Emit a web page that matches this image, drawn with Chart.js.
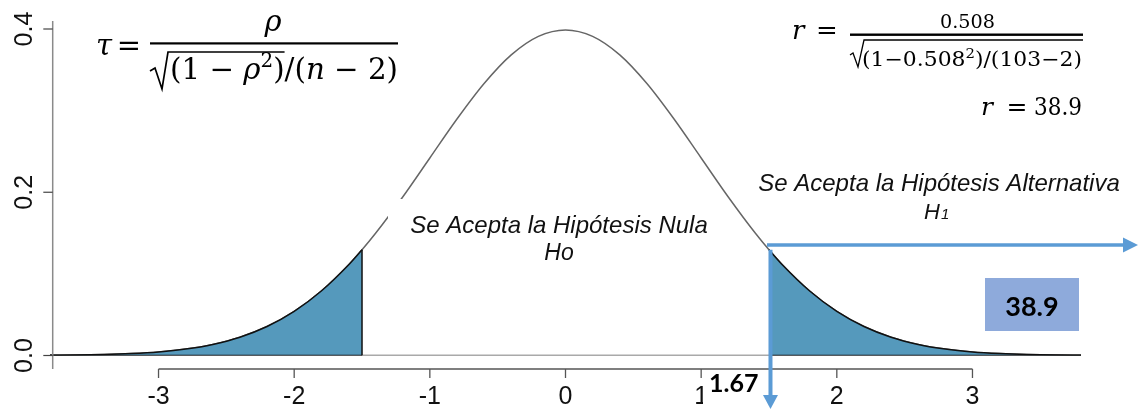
<!DOCTYPE html>
<html>
<head>
<meta charset="utf-8">
<script src="https://cdn.jsdelivr.net/npm/chart.js@4.4.1/dist/chart.umd.min.js"></script>
<style>
  html, body { margin: 0; padding: 0; background: #fff; }
  canvas { display: block; }
</style>
</head>
<body>
<canvas id="chart" width="1139" height="409"></canvas>
<script>
// Curve (x in z units, y = density)
const xValues = [-3.8, -3.6, -3.4, -3.2, -3.0, -2.8, -2.6, -2.4, -2.2, -2.0, -1.8, -1.6, -1.5, -1.4, -1.2, -1.0, -0.8, -0.6, -0.4, -0.2,
  0, 0.2, 0.4, 0.6, 0.8, 1.0, 1.2, 1.4, 1.5, 1.6, 1.8, 2.0, 2.2, 2.4, 2.6, 2.8, 3.0, 3.2, 3.4, 3.6, 3.8];
const density = [0.0003, 0.0006, 0.0012, 0.0024, 0.0044, 0.0079, 0.0136, 0.0224, 0.0355, 0.0540, 0.0790, 0.1109, 0.1295, 0.1497, 0.1942, 0.2420, 0.2897, 0.3332, 0.3683, 0.3910,
  0.3989, 0.3910, 0.3683, 0.3332, 0.2897, 0.2420, 0.1942, 0.1497, 0.1295, 0.1109, 0.0790, 0.0540, 0.0355, 0.0224, 0.0136, 0.0079, 0.0044, 0.0024, 0.0012, 0.0006, 0.0003];

// shaded tails start here
const criticalValue = 1.5;

const xTicks = [-3, -2, -1, 0, 1, 2, 3];
const yTicks = [0, 0.2, 0.4];
const yTickLabels = ['0.0', '0.2', '0.4'];

const nullText = ['Se Acepta la Hipótesis Nula', 'Ho'];
const altText = 'Se Acepta la Hipótesis Alternativa';
const statValue = '38.9';
const tableValue = '1.67';

const points = xValues.map((x, i) => ({ x: x, y: density[i] }));
const leftTail = points.filter(p => p.x <= -criticalValue);
const rightTail = points.filter(p => p.x >= criticalValue);
const edgeY = density[xValues.indexOf(-criticalValue)];
const xMin = xValues[0], xMax = xValues[xValues.length - 1];

const SERIF = '"DejaVu Serif"';
const SANS = '"Liberation Sans", Arial, sans-serif';

// draw text runs: [text, style] with style n (normal), i (italic), s (superscript)
function runsWidth(ctx, runs, size) {
  let w = 0;
  runs.forEach(([t, s]) => {
    const sz = s === 's' ? size * 0.68 : size;
    ctx.font = (s === 'i' ? 'italic ' : '') + sz + 'px ' + SERIF;
    w += ctx.measureText(t).width;
  });
  return w;
}

// draws runs stretched to fit between left and right, returns x-ends of each run
function drawRuns(ctx, runs, left, right, baseline, size) {
  const w = runsWidth(ctx, runs, size);
  const sx = (right - left) / w;
  const ends = [];
  let cx = 0;
  ctx.save();
  ctx.translate(left, baseline);
  ctx.scale(sx, 1);
  ctx.textAlign = 'left';
  ctx.textBaseline = 'alphabetic';
  runs.forEach(([t, s]) => {
    const sz = s === 's' ? size * 0.68 : size;
    ctx.font = (s === 'i' ? 'italic ' : '') + sz + 'px ' + SERIF;
    ctx.fillText(t, cx, s === 's' ? -size * 0.4 : 0);
    cx += ctx.measureText(t).width;
    ends.push(left + cx * sx);
  });
  ctx.restore();
  return ends;
}

function arrow(ctx, x1, y1, x2, y2, width, head, half) {
  const a = Math.atan2(y2 - y1, x2 - x1);
  const bx = x2 - Math.cos(a) * head, by = y2 - Math.sin(a) * head;
  ctx.beginPath();
  ctx.moveTo(x1, y1);
  ctx.lineTo(bx, by);
  ctx.lineWidth = width;
  ctx.stroke();
  ctx.beginPath();
  ctx.moveTo(x2, y2);
  ctx.lineTo(bx - Math.sin(a) * half, by + Math.cos(a) * half);
  ctx.lineTo(bx + Math.sin(a) * half, by - Math.cos(a) * half);
  ctx.closePath();
  ctx.fill();
}

const decor = {
  id: 'decor',
  afterDatasetsDraw(chart) {
    const ctx = chart.ctx;
    const xs = chart.scales.x, ys = chart.scales.y;
    const y0 = ys.getPixelForValue(0);
    ctx.save();

    // text box that hides part of the curve
    ctx.fillStyle = '#fff';
    ctx.fillRect(388, 199, 332, 72);
    ctx.fillStyle = '#111';
    ctx.textAlign = 'center';
    ctx.textBaseline = 'alphabetic';
    ctx.font = 'italic 24px ' + SANS;
    ctx.fillText(nullText[0], 559, 233);
    ctx.font = 'italic 23px ' + SANS;
    ctx.fillText(nullText[1], 559, 260);

    ctx.font = 'italic 24px ' + SANS;
    ctx.fillText(altText, 939, 191);
    ctx.textAlign = 'left';
    ctx.font = 'italic 22px ' + SANS;
    ctx.fillText('H', 924, 219);
    ctx.font = 'italic 15px ' + SANS;
    ctx.fillText('1', 941, 219);

    // left formula
    ctx.fillStyle = '#000';
    ctx.strokeStyle = '#000';
    ctx.font = 'italic 29px ' + SERIF;
    ctx.fillText('τ', 96, 55);
    ctx.font = '29px ' + SERIF;
    ctx.textAlign = 'center';
    ctx.fillText('=', 129, 55);
    ctx.fillRect(150, 42.3, 248, 2.2);
    ctx.font = 'italic 29px ' + SERIF;
    ctx.fillText('ρ', 273, 31);
    const denL = [['(', 'n'], ['1', 'n'], [' − ', 'n'], ['ρ', 'i'], ['2', 's'], [')', 'n'],
      ['/(', 'n'], ['n', 'i'], [' − ', 'n'], ['2', 'n'], [')', 'n']];
    const endsL = drawRuns(ctx, denL, 170, 398, 79, 29);
    ctx.lineWidth = 1.7;
    ctx.beginPath();
    ctx.moveTo(150, 71); ctx.lineTo(155, 68); ctx.lineTo(162, 89); ctx.lineTo(168, 52); ctx.lineTo(endsL[5], 52);
    ctx.stroke();

    // right formula
    ctx.textAlign = 'left';
    ctx.font = 'italic 26px ' + SERIF;
    ctx.fillText('r', 792, 39);
    ctx.font = '26px ' + SERIF;
    ctx.textAlign = 'center';
    ctx.fillText('=', 827, 39);
    ctx.fillRect(850, 33.5, 233, 2.4);
    drawRuns(ctx, [['0.508', 'n']], 940, 995, 28, 19);
    const denR = [['(1−0.508', 'n'], ['2', 's'], [')/(103−2)', 'n']];
    drawRuns(ctx, denR, 862, 1082, 66, 20);
    ctx.lineWidth = 1.3;
    ctx.beginPath();
    ctx.moveTo(850, 55); ctx.lineTo(853, 53); ctx.lineTo(858, 67); ctx.lineTo(864, 40); ctx.lineTo(1083, 40);
    ctx.stroke();
    ctx.textAlign = 'left';
    ctx.font = 'italic 25px ' + SERIF;
    ctx.fillText('r', 981, 115);
    ctx.font = '25px ' + SERIF;
    ctx.textAlign = 'center';
    ctx.fillText('=', 1017, 115);
    drawRuns(ctx, [[statValue, 'n']], 1034, 1082, 115, 25);

    // y axis (R style)
    ctx.strokeStyle = '#8a8a8a';
    ctx.lineWidth = 1.5;
    ctx.beginPath();
    ctx.moveTo(52.7, 21); ctx.lineTo(52.7, 369);
    ctx.stroke();
    ctx.strokeStyle = '#444';
    ctx.lineWidth = 1.2;
    ctx.fillStyle = '#111';
    ctx.font = '25px ' + SANS;
    ctx.textAlign = 'center';
    yTicks.forEach((v, i) => {
      const py = ys.getPixelForValue(v);
      ctx.beginPath();
      ctx.moveTo(43.3, py); ctx.lineTo(52.7, py);
      ctx.stroke();
      ctx.save();
      ctx.translate(32, py);
      ctx.rotate(-Math.PI / 2);
      ctx.fillText(yTickLabels[i], 0, 0);
      ctx.restore();
    });

    // x axis (R style, offset below the curve)
    const axY = y0 + 13.5;
    ctx.strokeStyle = '#555';
    ctx.lineWidth = 1.3;
    ctx.beginPath();
    ctx.moveTo(xs.getPixelForValue(xTicks[0]), axY);
    ctx.lineTo(xs.getPixelForValue(xTicks[xTicks.length - 1]), axY);
    ctx.stroke();
    xTicks.forEach(v => {
      const px = xs.getPixelForValue(v);
      ctx.beginPath();
      ctx.moveTo(px, axY); ctx.lineTo(px, axY + 9);
      ctx.stroke();
      ctx.fillText(String(v), px, 404);
    });

    // critical value label
    ctx.fillStyle = '#fff';
    ctx.fillRect(703, 373, 62, 36);
    ctx.fillStyle = '#000';
    ctx.textAlign = 'left';
    ctx.font = 'bold 25px Lato, ' + SANS;
    ctx.fillText(tableValue, 709, 392);

    // statistic box
    ctx.fillStyle = '#8eaadb';
    ctx.fillRect(985, 278, 94, 53);
    ctx.fillStyle = '#000';
    ctx.textAlign = 'center';
    ctx.font = 'bold 27px Lato, ' + SANS;
    ctx.fillText(statValue, 1032, 316);

    // arrows
    const cx = xs.getPixelForValue(criticalValue);
    const cy = ys.getPixelForValue(edgeY);
    ctx.strokeStyle = '#5b9bd5';
    ctx.fillStyle = '#5b9bd5';
    arrow(ctx, cx - 2, 245, 1138, 245, 3.5, 15, 7.5);
    arrow(ctx, cx + 1.5, cy, cx + 1.5, 409, 4, 14, 7.5);

    ctx.restore();
  }
};

new Chart(document.getElementById('chart'), {
  type: 'line',
  data: {
    datasets: [
      { data: points, borderColor: '#666', borderWidth: 1.5, fill: false, order: 6 },
      { data: [{ x: xMin, y: 0 }, { x: xMax, y: 0 }], borderColor: '#555', borderWidth: 1.3, fill: false, order: 5 },
      { data: leftTail, borderColor: '#111', borderWidth: 1.5, backgroundColor: '#5599bc', fill: 'origin', order: 3 },
      { data: rightTail, borderColor: '#111', borderWidth: 1.5, backgroundColor: '#5599bc', fill: 'origin', order: 3 },
      { data: [{ x: -criticalValue, y: 0 }, { x: -criticalValue, y: edgeY }], borderColor: '#111', borderWidth: 1.5, fill: false, order: 1 },
      { data: [{ x: xMin, y: 0 }, { x: -criticalValue, y: 0 }], borderColor: '#111', borderWidth: 1.5, fill: false, order: 1 },
      { data: [{ x: criticalValue, y: 0 }, { x: xMax, y: 0 }], borderColor: '#111', borderWidth: 1.5, fill: false, order: 1 }
    ]
  },
  options: {
    responsive: false,
    animation: false,
    events: [],
    layout: { padding: { left: 50, right: 58, top: 29, bottom: 53.5 } },
    elements: {
      point: { radius: 0 },
      line: { cubicInterpolationMode: 'monotone', borderCapStyle: 'butt' }
    },
    scales: {
      x: { type: 'linear', min: xMin, max: xMax, display: false },
      y: { type: 'linear', min: 0, max: 0.4, display: false }
    },
    plugins: { legend: { display: false }, tooltip: { enabled: false } }
  },
  plugins: [decor]
});
</script>
</body>
</html>
